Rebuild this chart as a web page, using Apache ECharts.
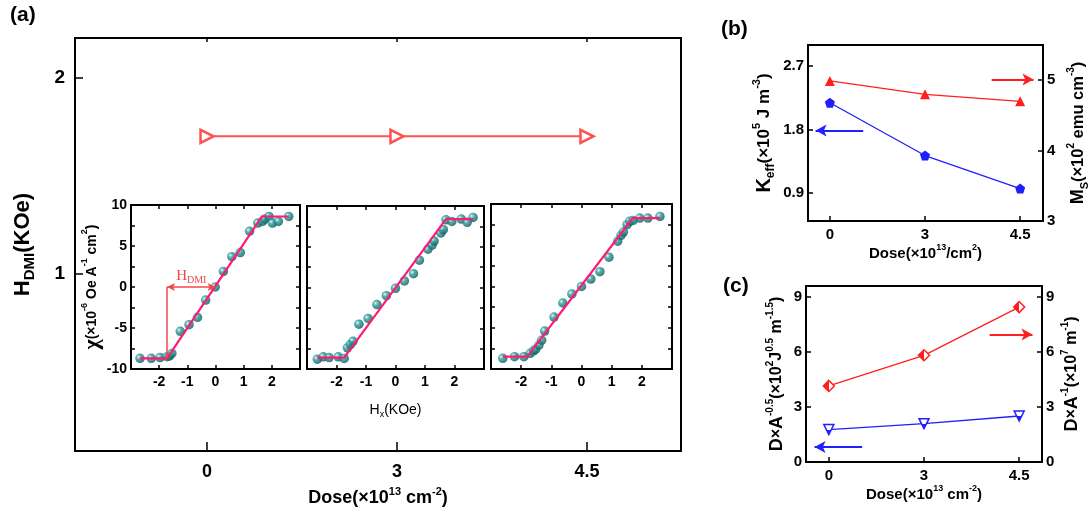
<!DOCTYPE html>
<html>
<head>
<meta charset="utf-8">
<script src="https://cdn.jsdelivr.net/npm/echarts@6.0.0/dist/echarts.min.js"></script>
<style>
  html, body { margin: 0; padding: 0; background: #fff; }
  #chart { width: 1091px; height: 512px; }
</style>
</head>
<body>
<div id="chart"></div>
<script>
// ---- dose categories (×10^13 cm^-2), drawn at positions 0,1,2 ----
const doseLabels = ['0', '3', '4.5'];
const doseIndex = [0, 1, 2];

// (a) DMI effective field per dose (KOe)
const hDmi = [1.7, 1.7, 1.7];

// (a) insets: chi vs Hx for each dose
const hx0  = [-2.68, -2.28, -1.97, -1.72, -1.63, -1.55, -1.25, -0.94, -0.64, -0.35, -0.01, 0.28, 0.58, 0.88, 1.21, 1.50, 1.67, 1.75, 1.90, 2.02, 2.23, 2.60];
const chi0 = [-8.7, -8.7, -8.6, -8.5, -8.4, -8.1, -5.4, -4.6, -3.7, -1.6, 0.0, 1.9, 3.7, 4.2, 6.8, 7.8, 8.0, 8.3, 8.6, 7.8, 8.0, 8.6];
const fitX0 = [-2.68, -1.72, 1.65, 2.60];
const fitY0 = [-8.7, -8.7, 8.6, 8.6];

const hx3  = [-2.65, -2.45, -2.25, -1.94, -1.74, -1.63, -1.53, -1.44, -1.24, -0.93, -0.63, -0.31, 0.0, 0.30, 0.61, 0.81, 1.10, 1.24, 1.31, 1.54, 1.62, 1.71, 1.91, 2.23, 2.43, 2.63];
const chi3 = [-8.8, -8.5, -8.6, -8.5, -8.7, -7.4, -7.0, -6.6, -4.5, -3.8, -2.1, -1.0, -0.1, 0.8, 1.7, 3.35, 4.7, 5.2, 5.7, 6.7, 7.1, 8.3, 8.1, 8.4, 8.0, 8.6];
const fitX3 = [-2.65, -1.74, 1.71, 2.63];
const fitY3 = [-8.6, -8.6, 8.4, 8.4];

const hx45  = [-2.61, -2.22, -1.91, -1.70, -1.59, -1.52, -1.41, -1.32, -1.22, -0.91, -0.62, -0.32, 0.0, 0.31, 0.61, 0.91, 1.20, 1.31, 1.39, 1.51, 1.60, 1.71, 1.93, 2.20, 2.60];
const chi45 = [-8.7, -8.5, -8.5, -8.1, -7.8, -7.6, -7.1, -6.5, -5.4, -3.7, -2.0, -0.9, 0.0, 0.9, 1.8, 3.55, 5.5, 6.2, 6.6, 7.5, 7.9, 8.0, 8.3, 8.3, 8.5];
const fitX45 = [-2.61, -1.80, 1.70, 2.60];
const fitY45 = [-8.5, -8.5, 8.3, 8.3];

// inset tick labels
const hxTicks = [-2, -1, 0, 1, 2];
const chiTicks = [-10, -5, 0, 5, 10];

// (b) anisotropy and saturation magnetisation
const kEff = [2.18, 1.43, 0.96];
const mS = [4.99, 4.80, 4.70];
const kEffTicks = [0.9, 1.8, 2.7];
const mSTicks = [3, 4, 5];

// (c) DMI ratios
const dOverSqrtA = [1.77, 2.09, 2.51];
const dOverA = [4.15, 5.82, 8.45];
const dTicks = [0, 3, 6, 9];

// ---- helpers ----
const F = '"Liberation Sans", Arial, sans-serif';
const RED = '#ff5252';
const PINK = '#ff1a78';
const BLUE = '#1f1fff';
const RED2 = '#ff1f1f';

const pts = (xs, ys) => xs.map((x, i) => [x, ys[i]]);

function rich(big, small) {
  const s = Math.round(small * 0.62);
  return {
    n:   { fontFamily: F, fontSize: big,   fontWeight: 'bold', color: '#000', lineHeight: big + 6, verticalAlign: 'middle' },
    m:   { fontFamily: F, fontSize: small, fontWeight: 'bold', color: '#000', lineHeight: big + 6, verticalAlign: 'middle' },
    sup: { fontFamily: F, fontSize: s, fontWeight: 'bold', color: '#000', lineHeight: s + 1, verticalAlign: 'top' },
    sub: { fontFamily: F, fontSize: s + 1, fontWeight: 'bold', color: '#000', lineHeight: s + 2, verticalAlign: 'bottom' }
  };
}

function ticks(len, values, extra) {
  return Object.assign({ show: true, inside: true, length: len, customValues: values,
    lineStyle: { color: '#000', width: 1.5 } }, extra || {});
}

function labels(size, values, formatter, margin) {
  const o = { show: true, customValues: values, fontFamily: F, fontSize: size, fontWeight: 'bold', color: '#000', margin: margin };
  if (formatter) o.formatter = formatter;
  return o;
}

const doseFmt = v => doseLabels[Math.round(v)];
const noLine = { show: false, onZero: false };
const noSplit = { show: false };

function grid(left, top, width, height) {
  return { left, top, width, height, show: true, borderColor: '#000', borderWidth: 2, backgroundColor: 'transparent' };
}

// ---- axes ----
const xAxis = [
  // 0: (a) main bottom
  { gridIndex: 0, type: 'value', min: -0.695, max: 2.495, position: 'bottom', axisLine: noLine, splitLine: noSplit,
    axisTick: ticks(9, doseIndex), axisLabel: labels(18, doseIndex, doseFmt, 12),
    name: '{n|Dose(×10}{sup|13}{n| cm}{sup|-2}{n|)}', nameLocation: 'middle', nameGap: 29,
    nameTextStyle: { rich: rich(18, 18) } },
  // 1: (a) main top mirror
  { gridIndex: 0, type: 'value', min: -0.695, max: 2.495, position: 'top', axisLine: noLine, splitLine: noSplit,
    axisTick: ticks(4, doseIndex), axisLabel: { show: false } },
  // 2,3: inset 1
  { gridIndex: 1, type: 'value', min: -3, max: 3, position: 'bottom', axisLine: noLine, splitLine: noSplit,
    axisTick: ticks(4, hxTicks), axisLabel: labels(14, hxTicks, null, 6) },
  { gridIndex: 1, type: 'value', min: -3, max: 3, position: 'top', axisLine: noLine, splitLine: noSplit,
    axisTick: ticks(4, hxTicks), axisLabel: { show: false } },
  // 4,5: inset 2
  { gridIndex: 2, type: 'value', min: -3, max: 3, position: 'bottom', axisLine: noLine, splitLine: noSplit,
    axisTick: ticks(4, hxTicks), axisLabel: labels(14, hxTicks, null, 6),
    name: '{h|H}{x|x}{h|(KOe)}', nameLocation: 'middle', nameGap: 32,
    nameTextStyle: { rich: {
      h: { fontFamily: F, fontSize: 14, color: '#000', lineHeight: 18, verticalAlign: 'middle' },
      x: { fontFamily: F, fontSize: 9, color: '#000', lineHeight: 9, verticalAlign: 'bottom' } } } },
  { gridIndex: 2, type: 'value', min: -3, max: 3, position: 'top', axisLine: noLine, splitLine: noSplit,
    axisTick: ticks(4, hxTicks), axisLabel: { show: false } },
  // 6,7: inset 3
  { gridIndex: 3, type: 'value', min: -3, max: 3, position: 'bottom', axisLine: noLine, splitLine: noSplit,
    axisTick: ticks(4, hxTicks), axisLabel: labels(14, hxTicks, null, 6) },
  { gridIndex: 3, type: 'value', min: -3, max: 3, position: 'top', axisLine: noLine, splitLine: noSplit,
    axisTick: ticks(4, hxTicks), axisLabel: { show: false } },
  // 8: (b)
  { gridIndex: 4, type: 'value', min: -0.23, max: 2.24, position: 'bottom', axisLine: noLine, splitLine: noSplit,
    axisTick: ticks(5, doseIndex), axisLabel: labels(15, doseIndex, doseFmt, 6),
    name: '{n|Dose(×10}{sup|13}{n|/cm}{sup|2}{n|)}', nameLocation: 'middle', nameGap: 19,
    nameTextStyle: { rich: rich(15, 15) } },
  // 9: (c)
  { gridIndex: 5, type: 'value', min: -0.24, max: 2.24, position: 'bottom', axisLine: noLine, splitLine: noSplit,
    axisTick: ticks(5, doseIndex), axisLabel: labels(15, doseIndex, doseFmt, 6),
    name: '{n|Dose(×10}{sup|13}{n| cm}{sup|-2}{n|)}', nameLocation: 'middle', nameGap: 21,
    nameTextStyle: { rich: rich(15, 15) } }
];

const insetY = (gi, pos, showLabels, extra) => Object.assign({
  gridIndex: gi, type: 'value', min: -10, max: 10, position: pos, axisLine: noLine, splitLine: noSplit,
  axisTick: ticks(4, [-10, -7.5, -5, -2.5, 0, 2.5, 5, 7.5, 10]),
  axisLabel: showLabels ? labels(14, chiTicks, null, 4) : { show: false }
}, extra || {});

const yAxis = [
  // 0: (a) main left
  { gridIndex: 0, type: 'value', min: 0.1, max: 2.2, position: 'left', axisLine: noLine, splitLine: noSplit,
    axisTick: ticks(8, [1, 2]), axisLabel: labels(19, [1, 2], null, 10),
    name: '{n|H}{sub|DMI}{n|(KOe)}', nameLocation: 'middle', nameGap: 38,
    nameTextStyle: { rich: rich(22, 22) } },
  // 1,2: inset 1
  insetY(1, 'left', true, {
    name: '{c|χ}{m|(×10}{sup|-6}{m| Oe A}{sup|-1}{m| cm}{sup|2}{m|)}', nameLocation: 'middle', nameGap: 20,
    nameTextStyle: { rich: Object.assign(rich(18, 14), {
      c: { fontFamily: '"Liberation Serif", serif', fontSize: 22, fontWeight: 'bold', color: '#000', lineHeight: 24, verticalAlign: 'middle' } }) } }),
  insetY(1, 'right', false),
  // 3,4: inset 2
  insetY(2, 'left', false),
  insetY(2, 'right', false),
  // 5,6: inset 3
  insetY(3, 'left', false),
  insetY(3, 'right', false),
  // 7: (b) left
  { gridIndex: 4, type: 'value', min: 0.5, max: 3.0, position: 'left', axisLine: noLine, splitLine: noSplit,
    axisTick: ticks(5, kEffTicks), axisLabel: labels(15, kEffTicks, v => v.toFixed(1), 4),
    name: '{n|K}{sub|eff}{m|(×10}{sup|5}{m| J m}{sup|-3}{m|)}', nameLocation: 'middle', nameGap: 31,
    nameTextStyle: { rich: rich(20, 17) } },
  // 8: (b) right
  { gridIndex: 4, type: 'value', min: 3, max: 5.5, position: 'right', axisLine: noLine, splitLine: noSplit,
    axisTick: ticks(5, mSTicks), axisLabel: labels(15, mSTicks, null, 4),
    name: '{n|M}{sub|S}{m|(×10}{sup|2}{m| emu cm}{sup|-3}{m|)}', nameLocation: 'middle', nameGap: 23,
    nameTextStyle: { rich: rich(18, 16.5) } },
  // 9: (c) left
  { gridIndex: 5, type: 'value', min: 0, max: 9.6, position: 'left', axisLine: noLine, splitLine: noSplit,
    axisTick: ticks(5, dTicks), axisLabel: labels(15, dTicks, null, 4),
    name: '{n|D}{m|×}{n|A}{sup|-0.5}{m|(×10}{sup|2}{m|J}{sup|0.5}{m| m}{sup|-1.5}{m|)}', nameLocation: 'middle', nameGap: 17,
    nameTextStyle: { rich: rich(18, 16) } },
  // 10: (c) right
  { gridIndex: 5, type: 'value', min: 0, max: 9.6, position: 'right', axisLine: noLine, splitLine: noSplit,
    axisTick: ticks(5, dTicks), axisLabel: labels(15, dTicks, null, 4),
    name: '{n|D}{m|×}{n|A}{sup|-1}{m|(×10}{sup|7}{m| m}{sup|-1}{m|)}', nameLocation: 'middle', nameGap: 18,
    nameTextStyle: { rich: rich(18, 16) } }
];

// ---- series ----
const ball = {
  type: 'radial', x: 0.35, y: 0.35, r: 0.7,
  colorStops: [
    { offset: 0, color: '#dff7f4' },
    { offset: 0.35, color: '#2b9e9a' },
    { offset: 1, color: '#0a5452' }
  ]
};

function scatter(xi, yi, xs, ys) {
  return { type: 'scatter', xAxisIndex: xi, yAxisIndex: yi, data: pts(xs, ys),
    symbol: 'circle', symbolSize: 9.5, itemStyle: { color: ball }, z: 3, silent: true };
}
function fit(xi, yi, xs, ys, extra) {
  return Object.assign({ type: 'line', xAxisIndex: xi, yAxisIndex: yi, data: pts(xs, ys),
    showSymbol: false, symbol: 'none', lineStyle: { color: PINK, width: 2.2 }, z: 4, silent: true }, extra || {});
}

const halfFill = (c, dir) => ({
  type: 'linear', x: 0, y: 0, x2: dir === 'h' ? 1 : 0, y2: dir === 'h' ? 0 : 1,
  colorStops: [
    { offset: 0, color: c }, { offset: 0.5, color: c },
    { offset: 0.5, color: '#fff' }, { offset: 1, color: '#fff' }
  ]
});

function arrow(color, from, to) {
  return {
    silent: true, animation: false, symbol: ['none', 'arrow'], symbolSize: [9, 11],
    lineStyle: { color, width: 2, type: 'solid' }, label: { show: false },
    data: [[{ coord: from }, { coord: to }]]
  };
}

const series = [
  // (a) main
  { type: 'line', xAxisIndex: 0, yAxisIndex: 0, data: pts(doseIndex, hDmi),
    symbol: 'triangle', symbolRotate: -90, symbolSize: 13, showSymbol: true,
    lineStyle: { color: RED, width: 2 },
    itemStyle: { color: '#fff', borderColor: RED, borderWidth: 2.5 }, z: 3, silent: true },
  // insets
  scatter(2, 1, hx0, chi0),
  fit(2, 1, fitX0, fitY0, {
    markLine: {
      silent: true, animation: false, symbol: ['none', 'none'],
      lineStyle: { color: '#f04848', width: 1.5, type: 'solid' },
      label: { show: false },
      data: [
        [{ coord: [fitX0[1], fitY0[1]] }, { coord: [fitX0[1], 0] }],
        [{ coord: [fitX0[1], 0], symbol: 'arrow', symbolSize: [6, 8],
           label: { show: true, position: 'middle', distance: 2, formatter: '{h|H}{d|DMI}',
             rich: {
               h: { fontFamily: '"Liberation Serif", serif', fontSize: 15, color: '#f04848', lineHeight: 18, verticalAlign: 'middle' },
               d: { fontFamily: '"Liberation Serif", serif', fontSize: 10, color: '#f04848', lineHeight: 10, verticalAlign: 'bottom' } } } },
         { coord: [0, 0], symbol: 'arrow', symbolSize: [6, 8] }]
      ]
    }
  }),
  scatter(4, 3, hx3, chi3),
  fit(4, 3, fitX3, fitY3),
  scatter(6, 5, hx45, chi45),
  fit(6, 5, fitX45, fitY45),
  // (b)
  { type: 'line', xAxisIndex: 8, yAxisIndex: 7, data: pts(doseIndex, kEff),
    symbol: 'path://M0,-1 L0.951,-0.309 L0.588,0.809 L-0.588,0.809 L-0.951,-0.309 Z', symbolSize: 10,
    lineStyle: { color: BLUE, width: 1.3 }, itemStyle: { color: BLUE }, silent: true,
    markLine: arrow(BLUE, [0.35, 1.785], [-0.15, 1.785]) },
  { type: 'line', xAxisIndex: 8, yAxisIndex: 8, data: pts(doseIndex, mS),
    symbol: 'triangle', symbolSize: 10,
    lineStyle: { color: RED2, width: 1.3 }, itemStyle: { color: RED2 }, silent: true,
    markLine: arrow(RED2, [1.70, 5.01], [2.14, 5.01]) },
  // (c)
  { type: 'line', xAxisIndex: 9, yAxisIndex: 9, data: pts(doseIndex, dOverSqrtA),
    symbol: 'triangle', symbolRotate: 180, symbolSize: 10,
    lineStyle: { color: BLUE, width: 1.3 },
    itemStyle: { color: halfFill(BLUE, 'v'), borderColor: BLUE, borderWidth: 1.5 }, silent: true,
    markLine: arrow(BLUE, [0.35, 0.82], [-0.15, 0.82]) },
  { type: 'line', xAxisIndex: 9, yAxisIndex: 10, data: pts(doseIndex, dOverA),
    symbol: 'diamond', symbolSize: 11,
    lineStyle: { color: RED2, width: 1.3 },
    itemStyle: { color: halfFill(RED2, 'h'), borderColor: RED2, borderWidth: 1.5 }, silent: true,
    markLine: arrow(RED2, [1.69, 6.95], [2.14, 6.95]) }
];

const chart = echarts.init(document.getElementById('chart'), null, { renderer: 'canvas' });
chart.setOption({
  backgroundColor: '#fff',
  animation: false,
  grid: [
    grid(75, 38, 606, 414),   // (a)
    grid(131, 205, 169, 164), // inset dose 0
    grid(307, 206, 177, 163), // inset dose 3
    grid(491, 204, 181, 165), // inset dose 4.5
    grid(808, 45, 236, 176),  // (b)
    grid(806, 286, 236, 176)  // (c)
  ],
  xAxis,
  yAxis,
  series,
  graphic: [
    { type: 'text', left: 10, top: 5, style: { text: '(a)', font: 'bold 21px "Liberation Sans", Arial', fill: '#000' } },
    { type: 'text', left: 721, top: 19, style: { text: '(b)', font: 'bold 21px "Liberation Sans", Arial', fill: '#000' } },
    { type: 'text', left: 723, top: 276, style: { text: '(c)', font: 'bold 21px "Liberation Sans", Arial', fill: '#000' } }
  ]
});
</script>
</body>
</html>
